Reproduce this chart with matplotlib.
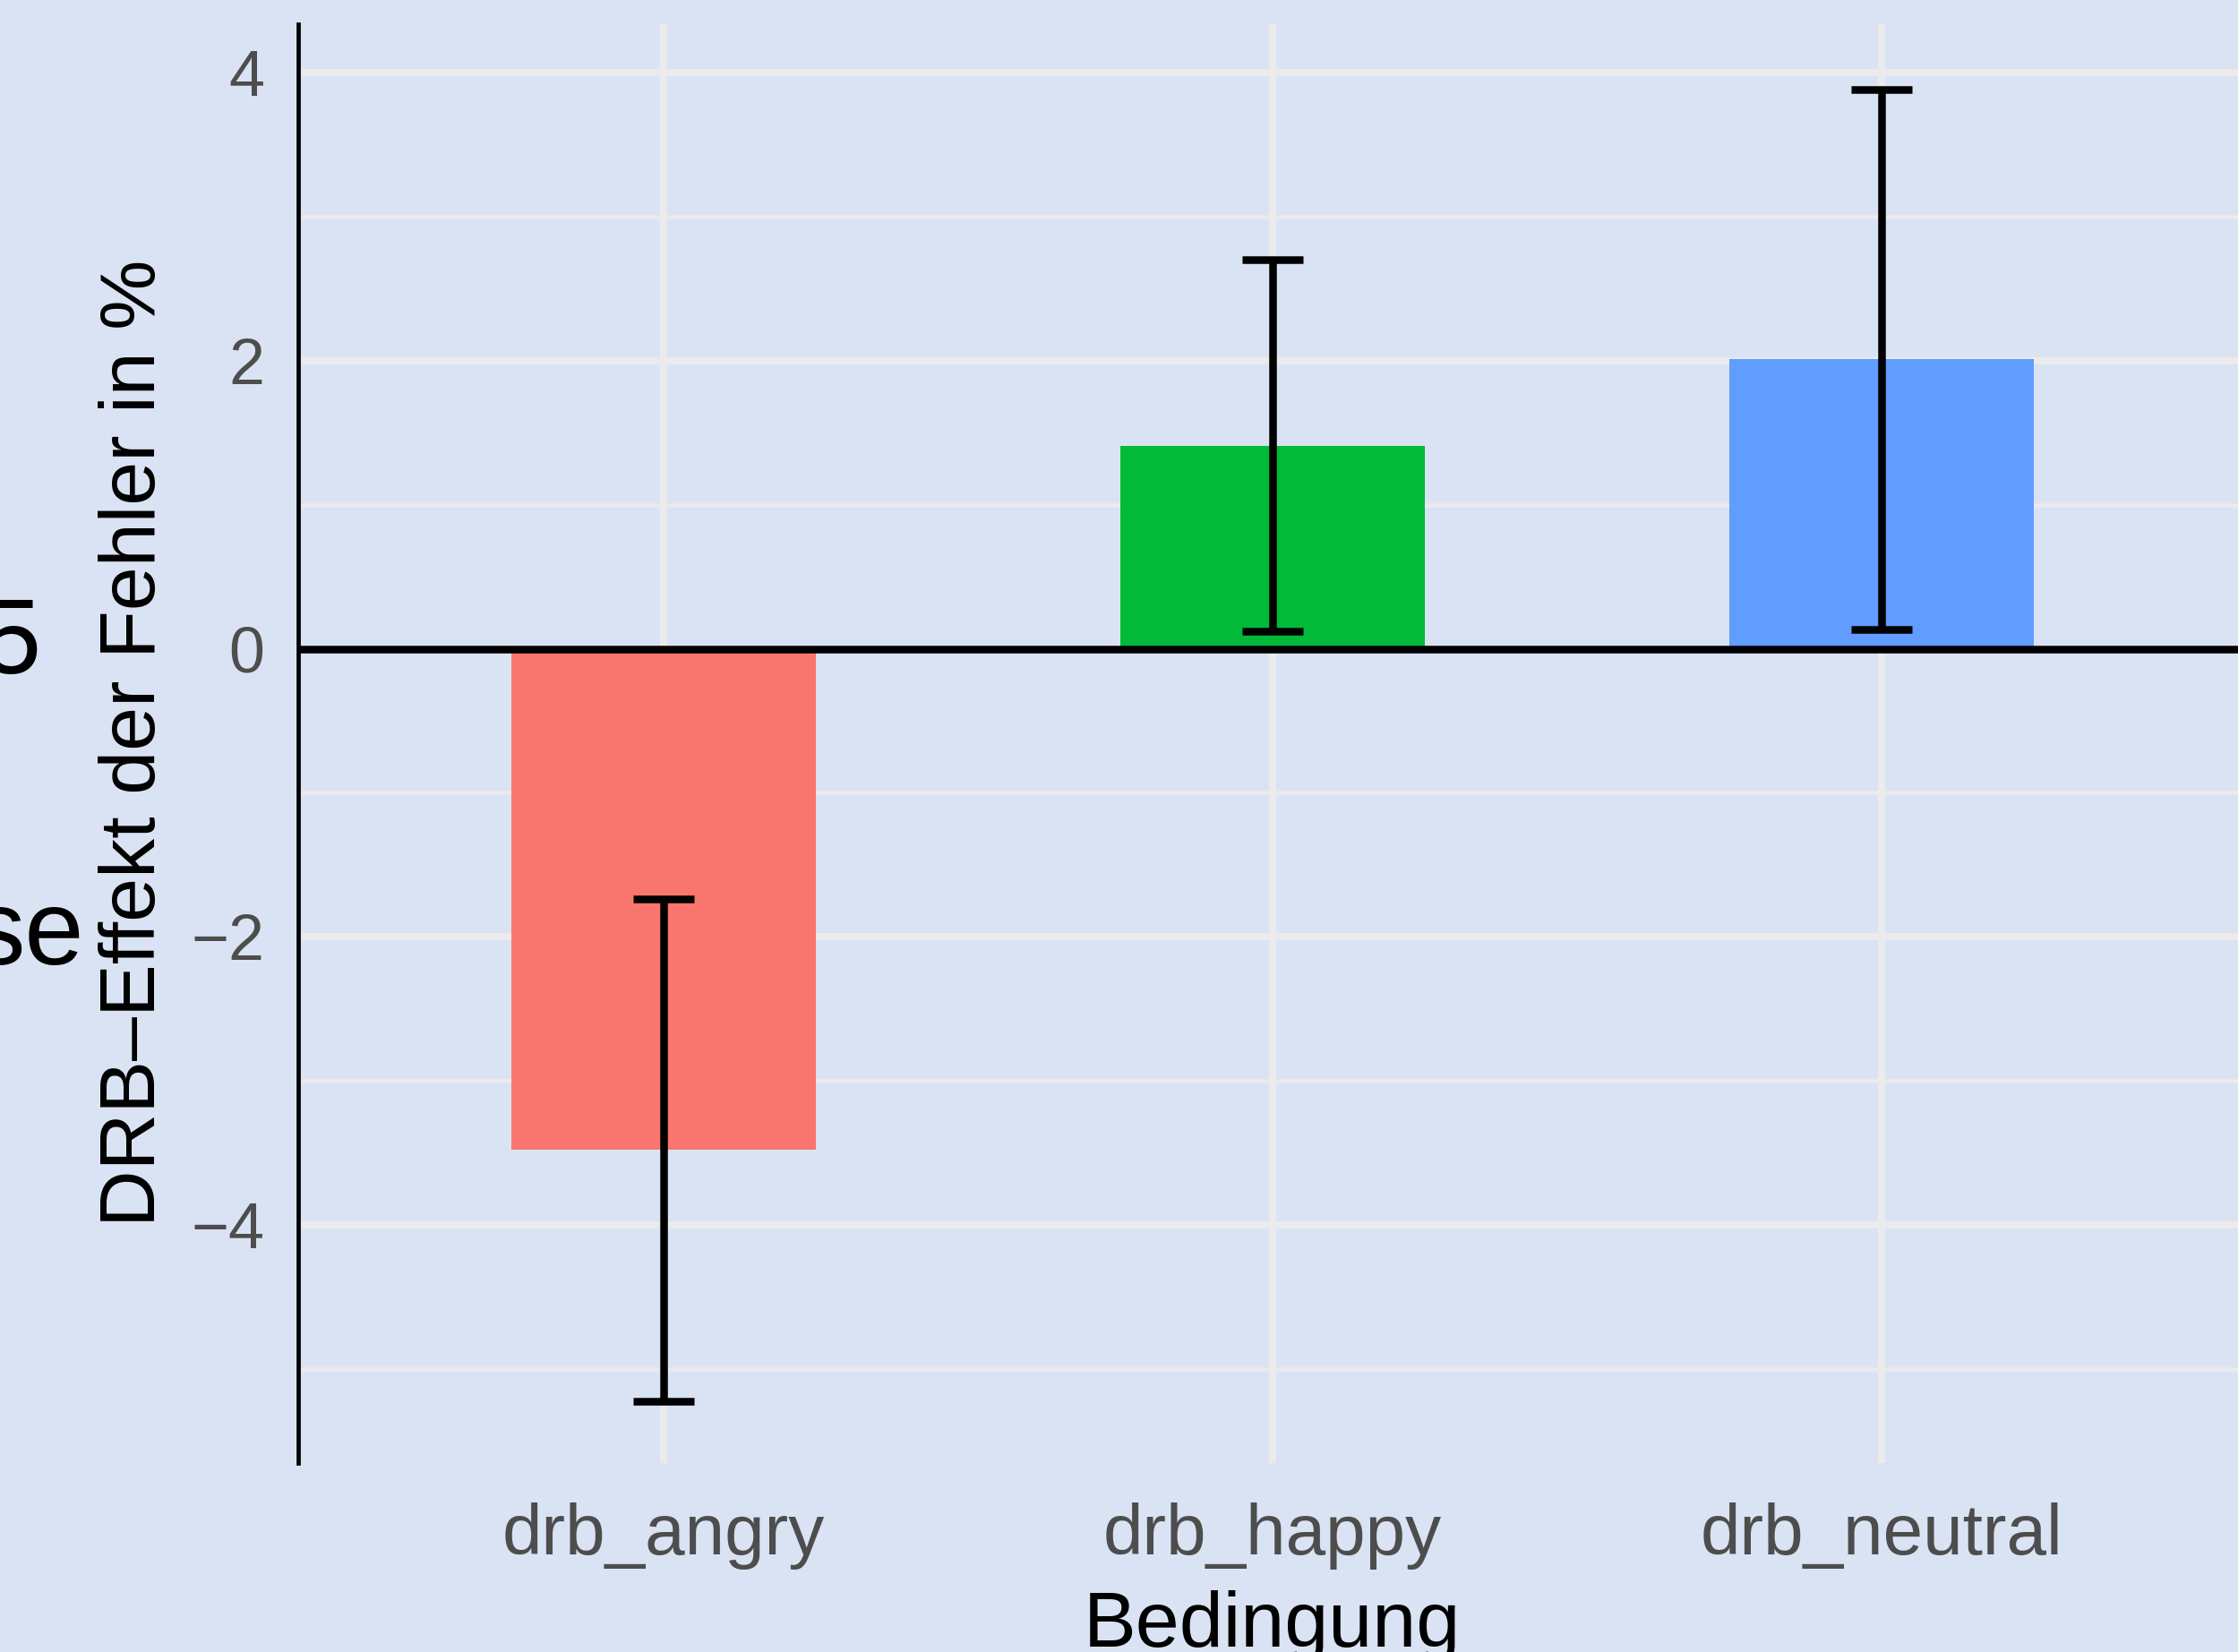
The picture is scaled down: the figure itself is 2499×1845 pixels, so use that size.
import numpy as np
import matplotlib
matplotlib.use("Agg")
import matplotlib.pyplot as plt

# data
conditions = ["drb_angry", "drb_happy", "drb_neutral"]
means = [-3.48, 1.41, 2.01]
ses = [1.745, 1.29, 1.875]
bar_colors = ["#F8766D", "#00BA38", "#619CFF"]

y_ticks = [-4, -2, 0, 2, 4]
y_minor = [-5, -3, -1, 1, 3]

W, H = 2499, 1845
DPI = 72  # 1 pt == 1 px
bg = "#DAE3F3"
grid_col = "#EBEBEB"

plt.rcParams['font.family'] = ['Liberation Sans', 'DejaVu Sans']

fig = plt.figure(figsize=(W / DPI, H / DPI), dpi=DPI, facecolor=bg)
# panel edges in pixels: left 333, right 2509 (runs past the edge), top 27, bottom 1634
ax = fig.add_axes([333 / W, (H - 1634) / H, (2509 - 333) / W, (1634 - 27) / H])
ax.set_facecolor(bg)

x = np.arange(1, len(conditions) + 1)
ax.bar(x, means, width=0.5, color=bar_colors, zorder=2)
ax.errorbar(x, means, yerr=ses, fmt='none', ecolor='black', elinewidth=8.5,
            capsize=34, capthick=8.5, zorder=4)
ax.axhline(0, color='black', linewidth=8.5, zorder=3)

ax.set_xlim(0.4, 3.6)
ax.set_ylim(-5.653, 4.336)
ax.set_xticks(x)
ax.set_xticklabels(conditions)
ax.set_yticks(y_ticks)
ax.set_yticklabels([str(v).replace("-", "\u2212") for v in y_ticks])
ax.set_yticks(y_minor, minor=True)

ax.set_axisbelow(True)
ax.grid(True, which='major', color=grid_col, linewidth=8)
ax.grid(True, which='minor', axis='y', color=grid_col, linewidth=4.5)

ax.tick_params(axis='both', which='both', length=0)
ax.tick_params(axis='x', labelsize=80, labelcolor='#4D4D4D', pad=44)
ax.tick_params(axis='y', labelsize=72, labelcolor='#4D4D4D', pad=38)

for s in ['top', 'right', 'bottom']:
    ax.spines[s].set_visible(False)
ax.spines['left'].set_color('black')
ax.spines['left'].set_linewidth(4.7)

# axis titles
fig.text(173 / W, (H - 830) / H, "DRB\u2013Effekt der Fehler in %", fontsize=88,
         rotation=90, rotation_mode='anchor', ha='center', va='baseline')
fig.text(1420 / W, (H - 1839) / H, "Bedingung", fontsize=88,
         ha='center', va='baseline')

# text cut off at the left edge of the reference
fig.text(45 / W, (H - 752) / H, "5", fontsize=119, ha='right', va='baseline')
fig.text(94 / W, (H - 1077) / H, "se", fontsize=119, ha='right', va='baseline')

fig.savefig("out.png", dpi=DPI, facecolor=bg)
